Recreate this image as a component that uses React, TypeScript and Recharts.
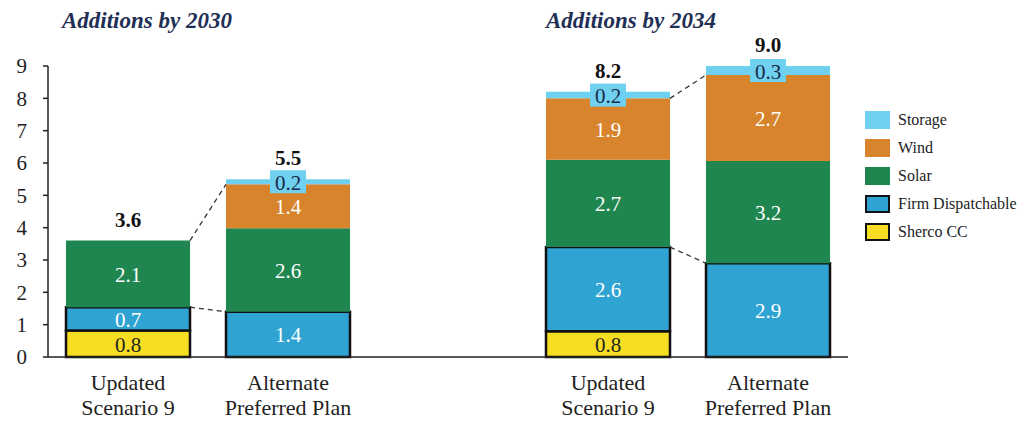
import { BarChart, Bar, XAxis, YAxis, LabelList } from 'recharts'

const CATEGORIES = ['Updated Scenario 9', 'Alternate Preferred Plan', '', 'Updated Scenario 9', 'Alternate Preferred Plan']
const SHERCO = [0.82, 0, null, 0.8, 0]
const FIRM = [0.72, 1.4, null, 2.6, 2.9]
const SOLAR = [2.06, 2.58, null, 2.7, 3.16]
const WIND = [0, 1.36, null, 1.9, 2.66]
const STORAGE = [0, 0.16, null, 0.2, 0.28]
const Y_TICKS = [0, 1, 2, 3, 4, 5, 6, 7, 8, 9]
const GROUP_TITLES = ['Additions by 2030', 'Additions by 2034']
// bars joined by dashed lines (previous, next)
const CONNECT = [[0, 1], [3, 4]]

const FONT = '"Liberation Serif", "DejaVu Serif", serif'
const CAT_GAP = 18

if (typeof document !== 'undefined') {
  document.body.style.margin = '0'
  document.body.style.overflow = 'hidden'
}

const SERIES = [
  { key: 'sherco', name: 'Sherco CC', color: '#F7DE22', stroke: '#111' },
  { key: 'firm', name: 'Firm Dispatchable', color: '#2FA3D2', stroke: '#111' },
  { key: 'solar', name: 'Solar', color: '#208650', stroke: 'none' },
  { key: 'wind', name: 'Wind', color: '#D7842C', stroke: 'none' },
  { key: 'storage', name: 'Storage', color: '#6FD0F0', stroke: 'none' },
]

const data = CATEGORIES.map((name, i) => ({
  name,
  idx: i,
  sherco: SHERCO[i],
  firm: FIRM[i],
  solar: SOLAR[i],
  wind: WIND[i],
  storage: STORAGE[i],
}))

const v = (arr: (number | null)[], i: number) => arr[i] ?? 0
const total = (i: number) => v(SHERCO, i) + v(FIRM, i) + v(SOLAR, i) + v(WIND, i) + v(STORAGE, i)

function CategoryTick({ x, y, payload }: any) {
  const label: string = payload?.value ?? ''
  if (!label) return null
  const sp = label.indexOf(' ')
  return (
    <text x={x} y={y} textAnchor="middle" style={{ fontFamily: FONT }} fontSize={22} fill="#222">
      <tspan x={x} dy={31}>{label.slice(0, sp)}</tspan>
      <tspan x={x} dy={25}>{label.slice(sp + 1)}</tspan>
    </text>
  )
}

// LabelList value is the row index (dataKey "idx")
function segmentLabel(arr: (number | null)[], color: string) {
  return (props: any) => {
    const i = Number(props.value)
    const val = arr[i]
    if (!val) return null
    const vb = props.viewBox ?? props
    return (
      <text x={vb.x + vb.width / 2} y={vb.y + vb.height / 2 + 1} textAnchor="middle" dominantBaseline="central"
        style={{ fontFamily: FONT }} fontSize={21} fill={color}>
        {val.toFixed(1)}
      </text>
    )
  }
}

// solar is present in every bar, so totals and connectors hang off its geometry
function solarLabel(props: any) {
  const i = Number(props.value)
  const val = SOLAR[i]
  if (!val) return null
  const vb = props.viewBox ?? props
  const base = v(SHERCO, i) + v(FIRM, i)
  const k = vb.height / val
  const bottom = vb.y + vb.height
  const yOf = (n: number) => bottom - (n - base) * k
  const cx = vb.x + vb.width / 2
  const pair = CONNECT.find((p) => p[1] === i)
  let lines = null
  if (pair) {
    const a = pair[0]
    const x0 = vb.x - 2 * CAT_GAP
    const lowA = v(SHERCO, a) + v(FIRM, a)
    const lowB = v(SHERCO, i) + v(FIRM, i)
    const highA = lowA + v(SOLAR, a) + v(WIND, a)
    const highB = lowB + v(SOLAR, i) + v(WIND, i)
    lines = (
      <g stroke="#333" strokeWidth={1.3} strokeDasharray="5 4">
        <line x1={x0} y1={yOf(lowA)} x2={vb.x} y2={yOf(lowB)} />
        <line x1={x0} y1={yOf(highA)} x2={vb.x} y2={yOf(highB)} />
      </g>
    )
  }
  return (
    <g>
      {lines}
      <text x={cx} y={vb.y + vb.height / 2 + 1} textAnchor="middle" dominantBaseline="central"
        style={{ fontFamily: FONT }} fontSize={21} fill="#fff">
        {val.toFixed(1)}
      </text>
      <text x={cx} y={yOf(total(i)) - 21} textAnchor="middle" dominantBaseline="central"
        style={{ fontFamily: FONT }} fontSize={21} fontWeight="bold" fill="#111">
        {total(i).toFixed(1)}
      </text>
    </g>
  )
}

function storageLabel(props: any) {
  const i = Number(props.value)
  const val = STORAGE[i]
  if (!val) return null
  const vb = props.viewBox ?? props
  const cx = vb.x + vb.width / 2
  const cy = vb.y + vb.height / 2
  return (
    <g>
      <rect x={cx - 18} y={cy - 11.5} width={36} height={23} fill="#6FD0F0" />
      <text x={cx} y={cy + 1} textAnchor="middle" dominantBaseline="central"
        style={{ fontFamily: FONT }} fontSize={21} fill="#1b2a4a">
        {val.toFixed(1)}
      </text>
    </g>
  )
}

const LABELS: Record<string, any> = {
  sherco: segmentLabel(SHERCO, '#222'),
  firm: segmentLabel(FIRM, '#fff'),
  solar: solarLabel,
  wind: segmentLabel(WIND, '#fff'),
  storage: storageLabel,
}

export default function App() {
  return (
    <div style={{ position: 'relative', width: 1025, height: 423, overflow: 'hidden', background: '#fff' }}>
      {GROUP_TITLES.map((t, i) => (
        <div key={t} style={{
          position: 'absolute', left: i === 0 ? 62 : 546, top: 8, fontFamily: FONT, fontSize: 23,
          fontStyle: 'italic', fontWeight: 'bold', color: '#1f2f55', whiteSpace: 'nowrap',
        }}>{t}</div>
      ))}
      <BarChart width={1025} height={423} data={data} barCategoryGap={CAT_GAP}
        margin={{ top: 66, right: 177, bottom: 6, left: 0 }}>
        <XAxis dataKey="name" interval={0} tickLine={false} tickSize={0} height={60}
          axisLine={{ stroke: '#222', strokeWidth: 1.5 }} tick={<CategoryTick />} />
        <YAxis domain={[0, 9]} ticks={Y_TICKS} interval={0} width={48} tickSize={5} tickMargin={16}
          axisLine={{ stroke: '#222', strokeWidth: 1.5 }} tickLine={{ stroke: '#222', strokeWidth: 1.5 }}
          tick={{ fontFamily: FONT, fontSize: 21, fill: '#222' }} />
        {SERIES.map((s) => (
          <Bar key={s.key} dataKey={s.key} name={s.name} stackId="a" fill={s.color}
            stroke={s.stroke} strokeWidth={s.stroke === 'none' ? 0 : 2.5} isAnimationActive={false}>
            <LabelList dataKey="idx" content={LABELS[s.key]} />
          </Bar>
        ))}
      </BarChart>
      <div style={{ position: 'absolute', left: 865, top: 106, fontFamily: FONT, fontSize: 16, color: '#222' }}>
        {[...SERIES].reverse().map((s) => (
          <div key={s.key} style={{ display: 'flex', alignItems: 'center', height: 28 }}>
            <span style={{
              display: 'inline-block', width: 25, height: 18, background: s.color, boxSizing: 'border-box',
              border: s.stroke === 'none' ? 'none' : '2.5px solid #111',
            }} />
            <span style={{ marginLeft: 8, whiteSpace: 'nowrap' }}>{s.name}</span>
          </div>
        ))}
      </div>
    </div>
  )
}
